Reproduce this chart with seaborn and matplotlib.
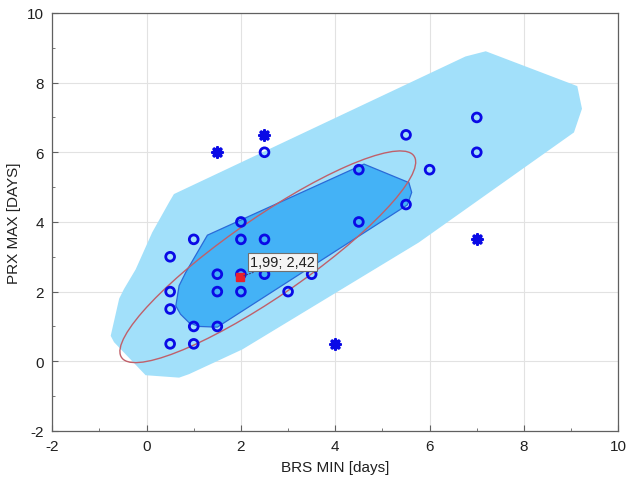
import matplotlib
matplotlib.use("Agg")
import matplotlib.pyplot as plt
from matplotlib.patches import Ellipse
from matplotlib.ticker import MultipleLocator
import seaborn as sns
import pandas as pd

# ---------------------------------------------------------------------------
# Data
# ---------------------------------------------------------------------------
brs_in = [0.5, 0.5, 0.5, 0.5, 1, 1, 1, 1.5, 1.5, 1.5, 2, 2, 2, 2, 2.5, 2.5,
          2.5, 3, 3.5, 4.5, 4.5, 5.5, 5.5, 6, 7, 7]
prx_in = [3, 2, 1.5, 0.5, 3.5, 1, 0.5, 2.5, 2, 1, 4, 3.5, 2.5, 2, 6, 3.5,
          2.5, 2, 2.5, 5.5, 4, 6.5, 4.5, 5.5, 7, 6]

brs_out = [1.5, 2.5, 4, 7]
prx_out = [6, 6.5, 0.5, 3.5]

median_xy = (1.99, 2.42)
median_label = "1,99; 2,42"

# fence (outer hull)
fence_x = [0.58, 6.76, 7.19, 9.13, 9.23, 9.06, 5.77, 2.03, 0.9, 0.69, -0.02,
           -0.69, -0.76, -0.58, -0.48, -0.23, 0.12, 0.48]
fence_y = [4.8, 8.75, 8.9, 7.9, 7.25, 6.57, 3.41, 0.34, -0.37, -0.47, -0.4,
           0.55, 0.73, 1.8, 2.07, 2.64, 3.7, 4.57]

# bag (inner hull)
bag_x = [1.29, 4.61, 5.56, 5.62, 5.53, 1.5, 1.11, 0.9, 0.72, 0.62, 0.69, 0.83]
bag_y = [3.62, 5.66, 5.13, 4.85, 4.49, 0.98, 1.0, 1.11, 1.35, 1.59, 2.17, 2.55]

# ellipse: centre, full width/height (data units), angle
ell_center = (2.57, 3.0)
ell_width = 8.5
ell_height = 2.0
ell_angle = 44

# ---------------------------------------------------------------------------
# Plot
# ---------------------------------------------------------------------------
sns.set_theme(style="whitegrid")
plt.rcParams["font.family"] = ["Liberation Sans", "DejaVu Sans"]
plt.rcParams["axes.unicode_minus"] = False

fig = plt.figure(figsize=(6.29, 4.81), dpi=100)
ax = fig.add_axes([0.083, 0.102, 0.9, 0.869])

ax.fill(fence_x, fence_y, color="#a2e0fa", lw=0, zorder=1)
ax.fill(bag_x, bag_y, facecolor="#44b2f6", edgecolor="#2a6ad8", lw=0.9, zorder=2)
ax.add_patch(Ellipse(ell_center, ell_width, ell_height, angle=ell_angle,
                     fill=False, edgecolor="#c0606a", lw=1.0, zorder=3))

df_in = pd.DataFrame({"BRS": brs_in, "PRX": prx_in})
df_out = pd.DataFrame({"BRS": brs_out, "PRX": prx_out})

sns.scatterplot(data=df_in, x="BRS", y="PRX", ax=ax, marker="o", s=40,
                facecolor="none", edgecolor="#0a0ae6", linewidth=2.0, zorder=4)
sns.scatterplot(data=df_out, x="BRS", y="PRX", ax=ax, marker=(8, 2, 0), s=45,
                color="#0a0ae6", edgecolor="#0a0ae6", linewidth=2.4, zorder=4)

ax.plot(*median_xy, marker="s", ms=6, color="#e8202a", ls="none", zorder=5)
ax.annotate(median_label, xy=median_xy, xytext=(7, 8), textcoords="offset points",
            fontsize=10.5, color="#202020", zorder=6,
            bbox=dict(boxstyle="square,pad=0.15", fc="#f4f4f4", ec="#707070", lw=0.8),
            arrowprops=dict(arrowstyle="-", ls=":", color="#404080", lw=0.8))

ax.set_xlim(-2, 10)
ax.set_ylim(-2, 10)
ax.xaxis.set_major_locator(MultipleLocator(2))
ax.yaxis.set_major_locator(MultipleLocator(2))
ax.xaxis.set_minor_locator(MultipleLocator(1))
ax.yaxis.set_minor_locator(MultipleLocator(1))
ax.tick_params(which="major", direction="in", length=4, width=0.8, color="#606060",
               labelsize=11, labelcolor="#202020", bottom=True, left=True, pad=6)
ax.tick_params(which="minor", direction="in", length=2.5, width=0.6, color="#606060",
               bottom=True, left=True)
ax.grid(which="major", color="#e2e2e2", lw=0.8)
ax.grid(which="minor", visible=False)
for sp in ax.spines.values():
    sp.set_color("#606060")
    sp.set_linewidth(0.9)
ax.set_facecolor("white")

ax.set_xlabel("BRS MIN [days]", fontsize=11, color="#202020", labelpad=5)
ax.set_ylabel("PRX MAX [DAYS]", fontsize=11, color="#202020", labelpad=4)

fig.savefig("out.png", dpi=100)
